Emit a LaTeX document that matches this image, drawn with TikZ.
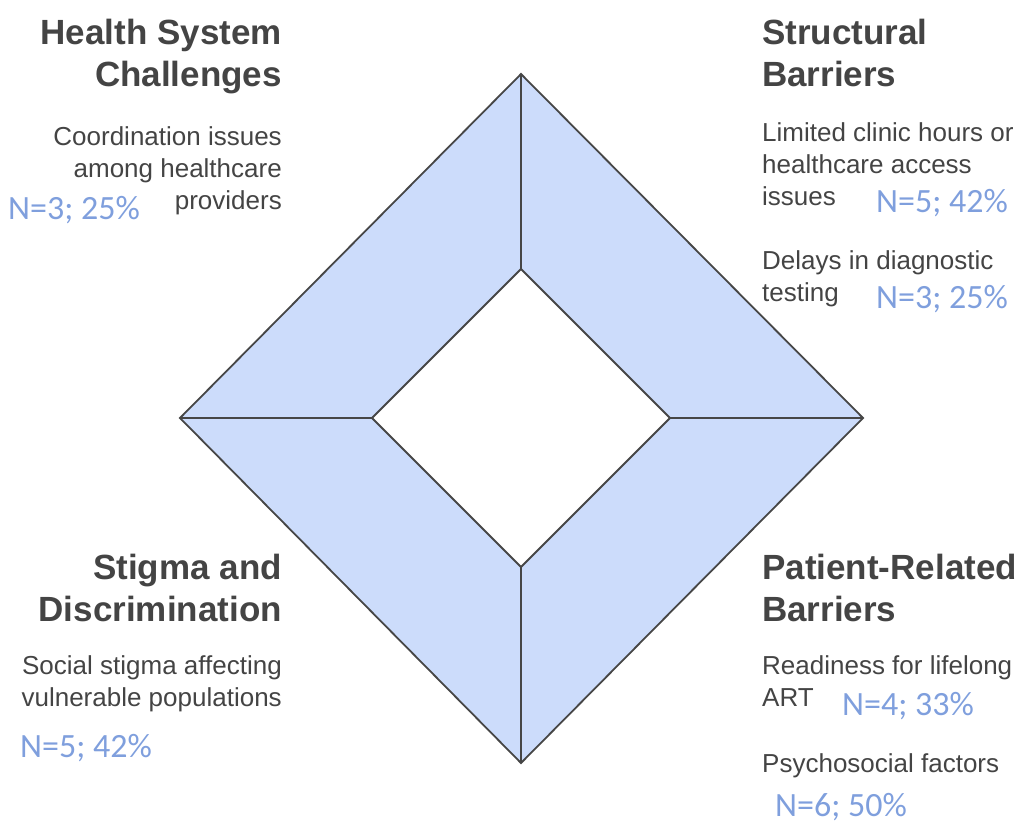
\documentclass[tikz,border=0pt]{standalone}
\usepackage{fontspec}
\setmainfont{Liberation Sans}
\newfontfamily\calib{Carlito}
\definecolor{fillblue}{HTML}{CCDCFB}
\definecolor{edgegray}{HTML}{464646}
\definecolor{textgray}{HTML}{444444}
\definecolor{numblue}{HTML}{7F9FDD}
\tikzset{
  head/.style={inner sep=0pt, text=textgray, font=\fontsize{35}{42}\selectfont\bfseries},
  body/.style={inner sep=0pt, text=textgray, font=\fontsize{26}{32}\selectfont},
  num/.style={inner sep=0pt, text=numblue, font=\calib\fontsize{34}{40}\selectfont},
  edge/.style={draw=edgegray, line width=1.8pt, line join=miter}
}
\begin{document}
\begin{tikzpicture}[x=1pt, y=-1pt]
\useasboundingbox (0,0) rectangle (1023,820);
% diamond vertices
\coordinate (OT) at (521,74);
\coordinate (OR) at (863,418);
\coordinate (OB) at (521,763);
\coordinate (OL) at (180,418);
\coordinate (IT) at (521,269);
\coordinate (IR) at (670,418);
\coordinate (IB) at (521,567);
\coordinate (IL) at (372,418);
\fill[fillblue, even odd rule] (OT) -- (OR) -- (OB) -- (OL) -- cycle
   (IT) -- (IR) -- (IB) -- (IL) -- cycle;
\draw[edge] (OT) -- (OR) -- (OB) -- (OL) -- cycle;
\draw[edge] (IT) -- (IR) -- (IB) -- (IL) -- cycle;
\draw[edge] (OT) -- (IT);
\draw[edge] (OR) -- (IR);
\draw[edge] (OB) -- (IB);
\draw[edge] (OL) -- (IL);
% top left (base anchor = baseline of the last line)
\node[head, anchor=base east, align=right] (hsc) at (282,86.5) {Health System\\Challenges};
\node[body, anchor=base east, align=right] (coord) at (282,209) {Coordination issues\\among healthcare\\providers};
\node[num, anchor=base west] (n1) at (8,219) {N=3; 25\%};
% top right
\node[head, anchor=base west, align=left] (sb) at (762,86.5) {Structural\\Barriers};
\node[body, anchor=base west, align=left] (lim) at (762,205) {Limited clinic hours or\\healthcare access\\issues};
\node[num, anchor=base west] (n2) at (876,212) {N=5; 42\%};
\node[body, anchor=base west, align=left] (del) at (762,301) {Delays in diagnostic\\testing};
\node[num, anchor=base west] (n3) at (876,308) {N=3; 25\%};
% bottom left
\node[head, anchor=base east, align=right] (sd) at (282,621.5) {Stigma and\\Discrimination};
\node[body, anchor=base east, align=right] (soc) at (282,706) {Social stigma affecting\\vulnerable populations};
\node[num, anchor=base west] (n4) at (20,757) {N=5; 42\%};
% bottom right
\node[head, anchor=base west, align=left] (prb) at (762,621.5) {Patient-Related\\Barriers};
\node[body, anchor=base west, align=left] (ready) at (762,706) {Readiness for lifelong\\ART};
\node[num, anchor=base west] (n5) at (842,715) {N=4; 33\%};
\node[body, anchor=base west] (psy) at (762,772) {Psychosocial factors};
\node[num, anchor=base west] (n6) at (775,816) {N=6; 50\%};
\end{tikzpicture}
\end{document}
